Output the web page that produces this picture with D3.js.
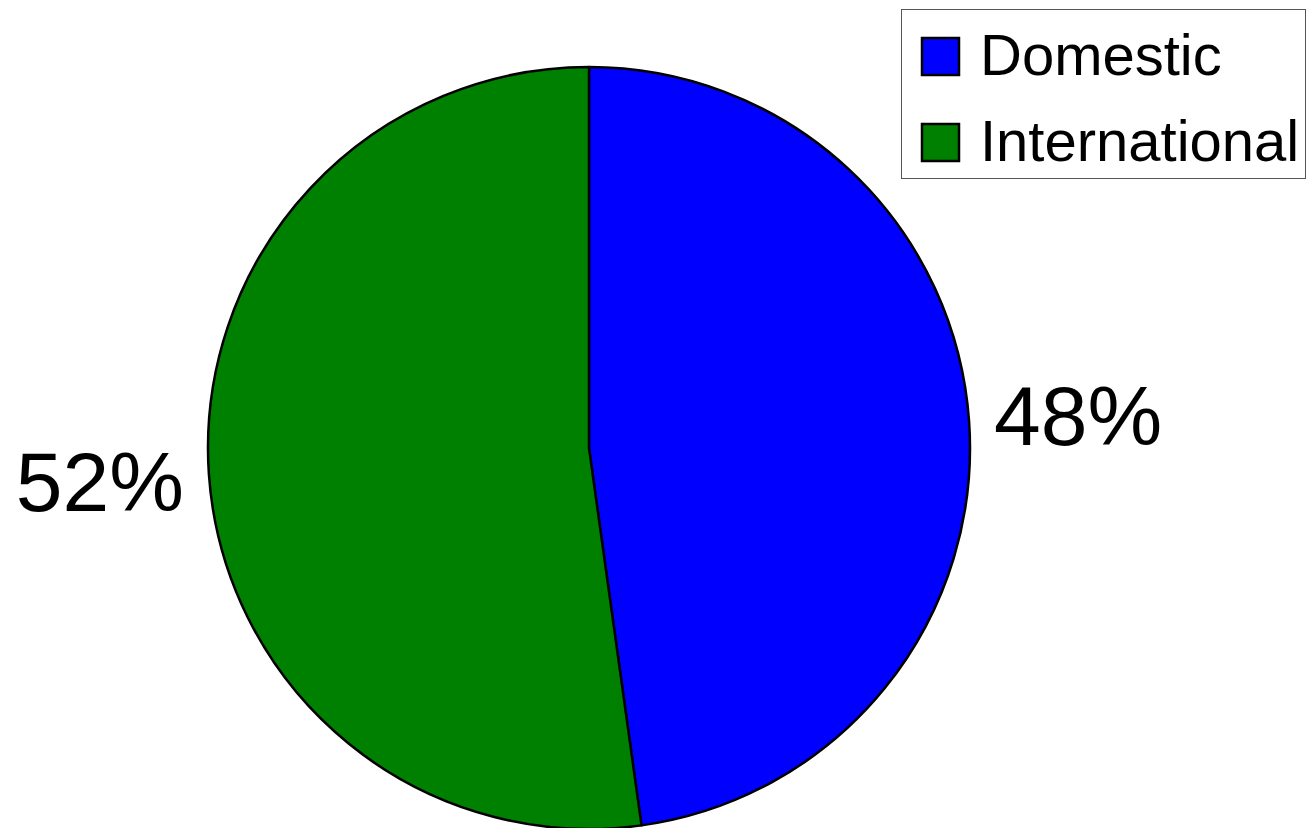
<!doctype html>
<html>
<head>
<meta charset="utf-8">
<title>Domestic vs International</title>
<style>
  body { margin: 0; background: #fff; }
  svg { display: block; font-family: "Liberation Sans", Arial, sans-serif; }
</style>
<script src="https://cdn.jsdelivr.net/npm/d3@7"></script>
</head>
<body>
<svg width="1306" height="828"></svg>
<script>
// data
var categories = ["Domestic", "International"];
var shares = [47.8, 52.2];
var labels = ["48%", "52%"];
var colors = ["#0000ff", "#008000"];

var svg = d3.select("svg"),
    cx = 589, cy = 448, radius = 381;

var data = categories.map(function(c, i) { return { name: c, value: shares[i], label: labels[i], color: colors[i] }; });

var pie = d3.pie().sort(null).value(function(d) { return d.value; });
var arc = d3.arc().innerRadius(0).outerRadius(radius);
var labelR = 406;

var g = svg.append("g").attr("transform", "translate(" + cx + "," + cy + ")");
var arcs = pie(data);

g.selectAll("path")
    .data(arcs)
    .enter().append("path")
    .attr("d", arc)
    .attr("fill", function(d) { return d.data.color; })
    .attr("stroke", "#000")
    .attr("stroke-width", 2.5)
    .attr("stroke-linejoin", "round");

// labels sit just outside the rim; small nudge so they read like the original
g.selectAll("text.pct")
    .data(arcs)
    .enter().append("text")
    .attr("class", "pct")
    .attr("x", function(d) { return labelR * Math.sin((d.startAngle + d.endAngle) / 2); })
    .attr("y", function(d) {
        var a = (d.startAngle + d.endAngle) / 2;
        return -labelR * Math.cos(a) + (a < Math.PI ? -5 : 5);
    })
    .attr("dy", "0.36em")
    .attr("text-anchor", function(d) { return (d.startAngle + d.endAngle) / 2 < Math.PI ? "start" : "end"; })
    .attr("font-size", 84)
    .attr("fill", "#000")
    .text(function(d) { return d.data.label; });

// legend
var legend = svg.append("g").attr("transform", "translate(901,9)");
legend.append("rect")
    .attr("x", 0.5).attr("y", 0.5)
    .attr("width", 404).attr("height", 169)
    .attr("fill", "#fff")
    .attr("stroke", "#555")
    .attr("stroke-width", 1);

var item = legend.selectAll("g.item")
    .data(data)
    .enter().append("g")
    .attr("class", "item")
    .attr("transform", function(d, i) { return "translate(21," + (29 + i * 86) + ")"; });

item.append("rect")
    .attr("width", 37).attr("height", 37)
    .attr("fill", function(d) { return d.color; })
    .attr("stroke", "#000")
    .attr("stroke-width", 2.5);

item.append("text")
    .attr("x", 58)
    .attr("y", 37)
    .attr("font-size", 58)
    .attr("fill", "#000")
    .text(function(d) { return d.name; });
</script>
</body>
</html>
